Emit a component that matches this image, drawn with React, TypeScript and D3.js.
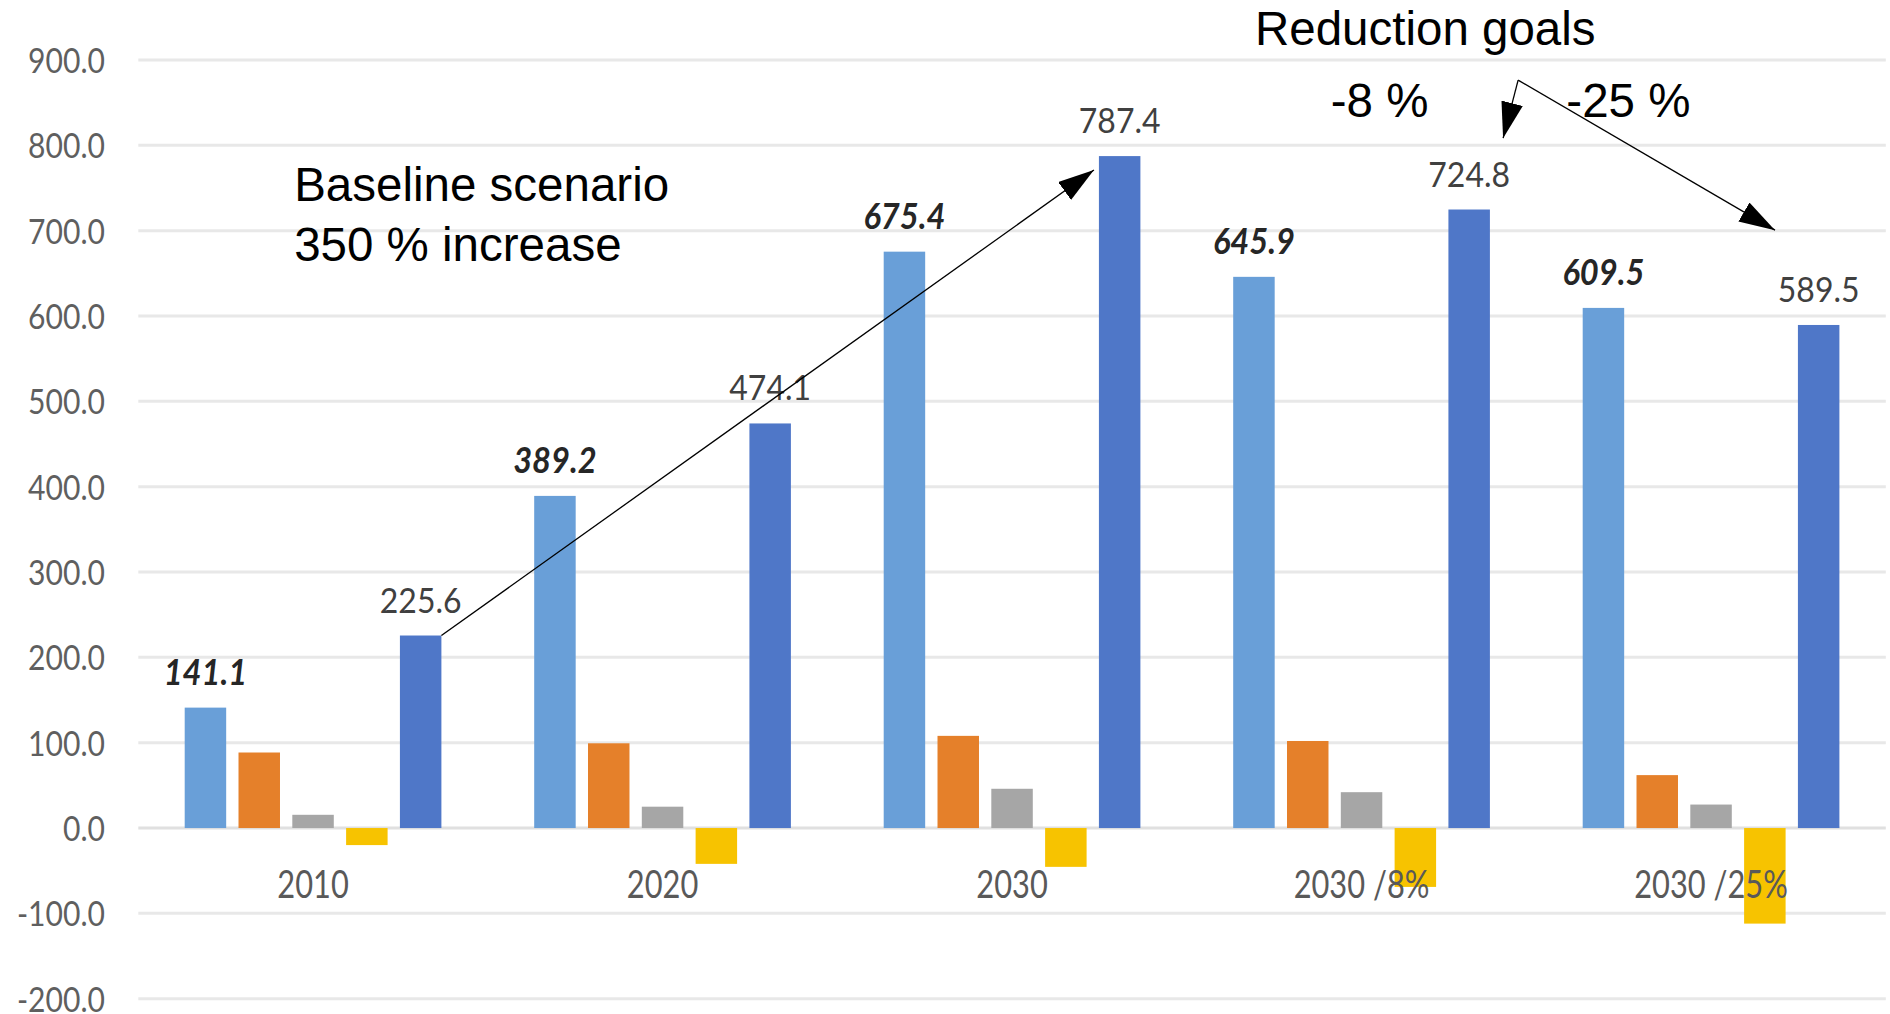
import React from "react";
import * as d3 from "d3";

// Scenario categories along the x axis
const categories = ["2010", "2020", "2030", "2030 /8%", "2030 /25%"];

// Five series per category, drawn left to right inside each group
const seriesKeys = ["lightBlue", "orange", "gray", "yellow", "darkBlue"];
const lightBlueValues = [141.1, 389.2, 675.4, 645.9, 609.5];
const orangeValues = [88.5, 99.3, 108.0, 102.0, 62.0];
const grayValues = [15.5, 25.0, 46.0, 42.0, 27.5];
const yellowValues = [-20.0, -42.0, -45.5, -69.0, -112.0];
const darkBlueValues = [225.6, 474.1, 787.4, 724.8, 589.5];

// Series that carry a value label
const labelledSeries = ["lightBlue", "darkBlue"];

// Value axis ticks
const yTicks = [-200, -100, 0, 100, 200, 300, 400, 500, 600, 700, 800, 900];

const seriesColors: Record<string, string> = {
  lightBlue: "#699fd8",
  orange: "#e5802a",
  gray: "#a6a6a6",
  yellow: "#f7c300",
  darkBlue: "#4f77c8",
};

const seriesValues: Record<string, number[]> = {
  lightBlue: lightBlueValues,
  orange: orangeValues,
  gray: grayValues,
  yellow: yellowValues,
  darkBlue: darkBlueValues,
};

const W = 1890;
const H = 1014;
const plot = { left: 138.3, right: 1885.8, top: 60, bottom: 998.7 };

const CHART_FONT = "Lato, 'Liberation Sans', sans-serif";
const NOTE_FONT = "'Liberation Sans', Arial, sans-serif";

const fmt = d3
  .formatLocale({ decimal: ".", thousands: ",", grouping: [3], currency: ["", ""], minus: "-" })
  .format(".1f");

function NarrowText(props: {
  x: number;
  y: number;
  sx: number;
  size: number;
  fill: string;
  anchor?: "start" | "middle" | "end";
  bold?: boolean;
  italic?: boolean;
  children: React.ReactNode;
}) {
  const { x, y, sx, size, fill, anchor = "middle", bold, italic, children } = props;
  return (
    <text
      transform={`translate(${x},${y}) scale(${sx},1)`}
      textAnchor={anchor}
      fontFamily={CHART_FONT}
      fontSize={size}
      fontWeight={bold ? 700 : 400}
      fontStyle={italic ? "italic" : "normal"}
      fill={fill}
    >
      {children}
    </text>
  );
}

export default function App() {
  const y = d3.scaleLinear().domain([-200, 900]).range([plot.bottom, plot.top]);

  const x0 = d3
    .scaleBand<string>()
    .domain(categories)
    .range([plot.left, plot.right])
    .paddingInner(0.2655)
    .paddingOuter(0.2655 / 2);

  const x1 = d3
    .scaleBand<string>()
    .domain(seriesKeys)
    .range([0, x0.bandwidth()])
    .paddingInner(0.229)
    .paddingOuter(0);

  // Continuous x in "category units" for placing free annotations
  const xu = d3.scaleLinear().domain([0, categories.length]).range([plot.left, plot.right]);

  const bars: { key: string; cat: string; v: number; x: number; w: number }[] = [];
  categories.forEach((cat, ci) => {
    seriesKeys.forEach((key) => {
      bars.push({
        key,
        cat,
        v: seriesValues[key][ci],
        x: (x0(cat) as number) + (x1(key) as number),
        w: x1.bandwidth(),
      });
    });
  });

  // Baseline arrow: from the first dark-blue bar's top corner to the 2030 dark-blue bar
  const startBar = bars.find((b) => b.key === "darkBlue" && b.cat === "2010")!;
  const endBar = bars.find((b) => b.key === "darkBlue" && b.cat === "2030")!;
  const baseArrow = {
    x1: startBar.x + startBar.w,
    y1: y(startBar.v),
    x2: endBar.x - 5,
    y2: y(endBar.v) + 14,
  };

  // Reduction-goal arrows fan out from a common point (category units, value units)
  const fanOrigin = { u: 3.948, v: 876.4 };
  const fanTips = [
    { u: 3.905, v: 808.4 },
    { u: 4.683, v: 700.6 },
  ];

  return (
    <svg
      width={W}
      height={H}
      viewBox={`0 0 ${W} ${H}`}
      style={{ position: "absolute", left: 0, top: 0, background: "#ffffff" }}
    >
      <defs>
        <marker
          id="arrowHead"
          markerUnits="userSpaceOnUse"
          markerWidth={38}
          markerHeight={24}
          refX={36}
          refY={11}
          orient="auto"
        >
          <path d="M0,0 L36,11 L0,22 Z" fill="#000" />
        </marker>
      </defs>

      {/* gridlines */}
      <g>
        {yTicks.map((t) => (
          <line
            key={t}
            x1={plot.left}
            x2={plot.right}
            y1={y(t)}
            y2={y(t)}
            stroke={t === 0 ? "#e0e0e0" : "#e8e8e8"}
            strokeWidth={3}
          />
        ))}
      </g>

      {/* value axis labels */}
      <g>
        {yTicks.map((t) => (
          <NarrowText key={t} x={105} y={y(t) + 13} sx={0.86} size={35} fill="#5f5f5f" anchor="end">
            {fmt(t)}
          </NarrowText>
        ))}
      </g>

      {/* bars */}
      <g>
        {bars.map((b) => (
          <rect
            key={b.cat + b.key}
            x={b.x}
            width={b.w}
            y={Math.min(y(b.v), y(0))}
            height={Math.abs(y(b.v) - y(0))}
            fill={seriesColors[b.key]}
          />
        ))}
      </g>

      {/* category labels */}
      <g>
        {categories.map((c) => (
          <NarrowText
            key={c}
            x={(x0(c) as number) + x0.bandwidth() / 2}
            y={898}
            sx={0.8}
            size={38.5}
            fill="#595959"
          >
            {c}
          </NarrowText>
        ))}
      </g>

      {/* value labels */}
      <g>
        {bars
          .filter((b) => labelledSeries.includes(b.key))
          .map((b) =>
            b.key === "lightBlue" ? (
              <NarrowText
                key={"l" + b.cat + b.key}
                x={b.x + b.w / 2}
                y={y(b.v) - 23}
                sx={0.92}
                size={35.5}
                fill="#262626"
                bold
                italic
              >
                {fmt(b.v)}
              </NarrowText>
            ) : (
              <NarrowText
                key={"l" + b.cat + b.key}
                x={b.x + b.w / 2}
                y={y(b.v) - 23}
                sx={0.9}
                size={35.5}
                fill="#404040"
              >
                {fmt(b.v)}
              </NarrowText>
            )
          )}
      </g>

      {/* annotations */}
      <g fontFamily={NOTE_FONT} fill="#000" fontSize={47.5}>
        <text x={xu(0.446)} y={y(735)}>Baseline scenario</text>
        <text x={xu(0.446)} y={y(665)}>350 % increase</text>
        <text x={xu(3.195)} y={y(917.5)}>Reduction goals</text>
        <text x={xu(3.412)} y={y(833.5)}>-8 %</text>
        <text x={xu(4.086)} y={y(833.5)}>-25 %</text>
      </g>

      <line
        x1={baseArrow.x1}
        y1={baseArrow.y1}
        x2={baseArrow.x2}
        y2={baseArrow.y2}
        stroke="#000"
        strokeWidth={1.3}
        markerEnd="url(#arrowHead)"
      />
      {fanTips.map((t, i) => (
        <line
          key={i}
          x1={xu(fanOrigin.u)}
          y1={y(fanOrigin.v)}
          x2={xu(t.u)}
          y2={y(t.v)}
          stroke="#000"
          strokeWidth={1.3}
          markerEnd="url(#arrowHead)"
        />
      ))}
    </svg>
  );
}
